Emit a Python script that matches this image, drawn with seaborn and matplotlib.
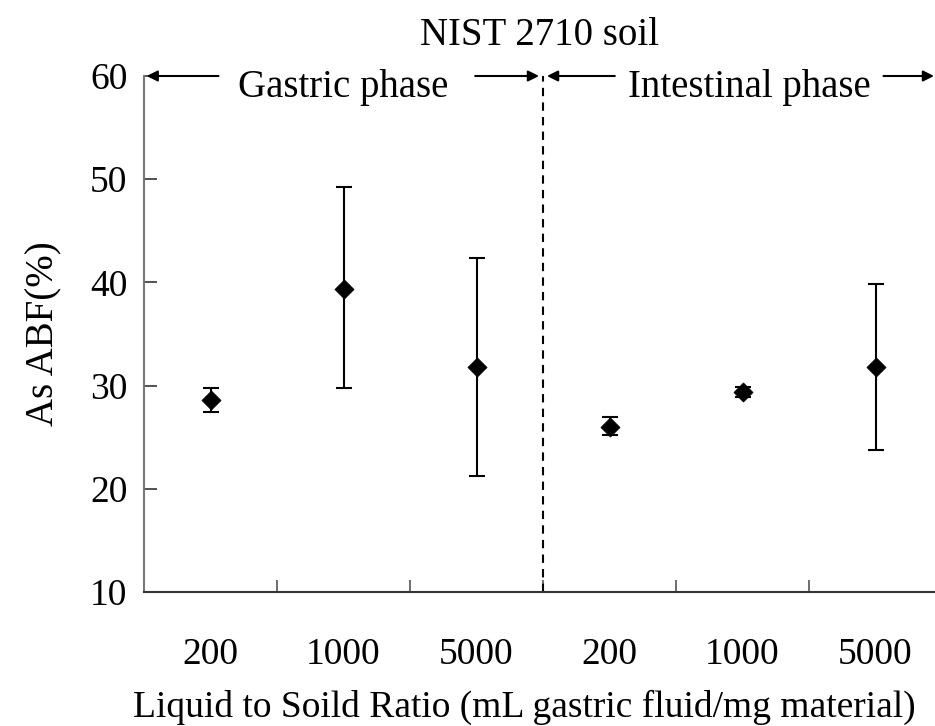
import matplotlib
matplotlib.use('Agg')
import matplotlib.pyplot as plt
import seaborn as sns
import pandas as pd
import numpy as np

# ---- data ----
phases = ['Gastric phase'] * 3 + ['Intestinal phase'] * 3
ratio_labels = ['200', '1000', '5000', '200', '1000', '5000']
abf_mean = [28.6, 39.4, 31.8, 26.0, 29.4, 31.8]
abf_low = [27.4, 29.8, 21.2, 25.2, 28.9, 23.8]
abf_high = [29.8, 49.2, 42.4, 27.0, 29.9, 39.8]
y_ticks = [10, 20, 30, 40, 50, 60]
title_text = 'NIST 2710 soil'
x_label = 'Liquid to Soild Ratio (mL gastric fluid/mg material)'
y_label = 'As ABF(%)'

sns.set_theme(style='white')
plt.rcParams['font.family'] = ['Liberation Serif', 'DejaVu Serif']
plt.rcParams['text.color'] = 'black'
plt.rcParams['axes.labelcolor'] = 'black'

df = pd.DataFrame({
    'pos': np.arange(len(abf_mean)),
    'phase': phases,
    'ratio': ratio_labels,
    'abf': abf_mean,
    'low': abf_low,
    'high': abf_high,
})

W, H = 935, 726
fig = plt.figure(figsize=(W / 100, H / 100), dpi=100)
ax = fig.add_axes([144 / W, 134 / H, 791 / W, 516 / H])

yerr = [df['abf'] - df['low'], df['high'] - df['abf']]
ax.errorbar(df['pos'], df['abf'], yerr=yerr, fmt='none', ecolor='black',
            elinewidth=1.5, capsize=6, capthick=1.5, zorder=2)
sns.scatterplot(data=df, x='pos', y='abf', marker='D', s=95, color='black',
                edgecolor='black', linewidth=0.5, ax=ax, zorder=3, legend=False)

ax.set_xlim(-0.5, -0.5 + 791 / 133)
ax.set_ylim(y_ticks[0], y_ticks[-1])
ax.set_yticks(y_ticks)
ax.set_yticklabels([str(t) for t in y_ticks])
ax.set_xticks(df['pos'])
ax.set_xticklabels(df['ratio'])
ax.set_xticks(np.arange(0.5, len(abf_mean) - 1, 1.0), minor=True)

fs_tick = 27
fs = 28
ax.tick_params(axis='x', which='major', bottom=True, length=0, pad=33,
               labelsize=fs_tick, labelcolor='black')
ax.tick_params(axis='x', which='minor', bottom=True, direction='in', length=9,
               width=1.2, color='#555555')
ax.tick_params(axis='y', which='major', left=True, direction='in', length=9, width=1.2,
               color='#333333', pad=12, labelsize=fs_tick, labelcolor='black')

for s in ['top', 'right']:
    ax.spines[s].set_visible(False)
ax.spines['left'].set_color('#777777')
ax.spines['left'].set_linewidth(1.5)
ax.spines['bottom'].set_color('#333333')
ax.spines['bottom'].set_linewidth(1.5)

ax.set_xlabel(x_label, fontsize=27, color='black')
ax.xaxis.set_label_coords((524 - 144) / 791, -98 / 516)
ax.set_ylabel(y_label, fontsize=fs, labelpad=20, color='black')
ax.set_title(title_text, fontsize=fs, pad=22, color='black')

# divider between phases
ax.axvline(2.5, ymin=0, ymax=1, color='black', linestyle=(0, (4, 3)), linewidth=1.5)

# phase labels with arrows
ytop = y_ticks[-1]
ax.text(1.0, 58.0, phases[0], fontsize=fs, ha='center', va='baseline', color='black')
ax.text(4.05, 58.0, phases[3], fontsize=fs, ha='center', va='baseline', color='black')
arrow_kw = dict(arrowstyle='-|>', mutation_scale=16, lw=1.5, color='black', shrinkA=0, shrinkB=0)
for tail, head in [(0.06, -0.48), (1.99, 2.47), (3.04, 2.53), (5.06, 5.44)]:
    ax.annotate('', xy=(head, ytop), xytext=(tail, ytop), arrowprops=arrow_kw,
                annotation_clip=False)

fig.savefig('out.png', dpi=100)
